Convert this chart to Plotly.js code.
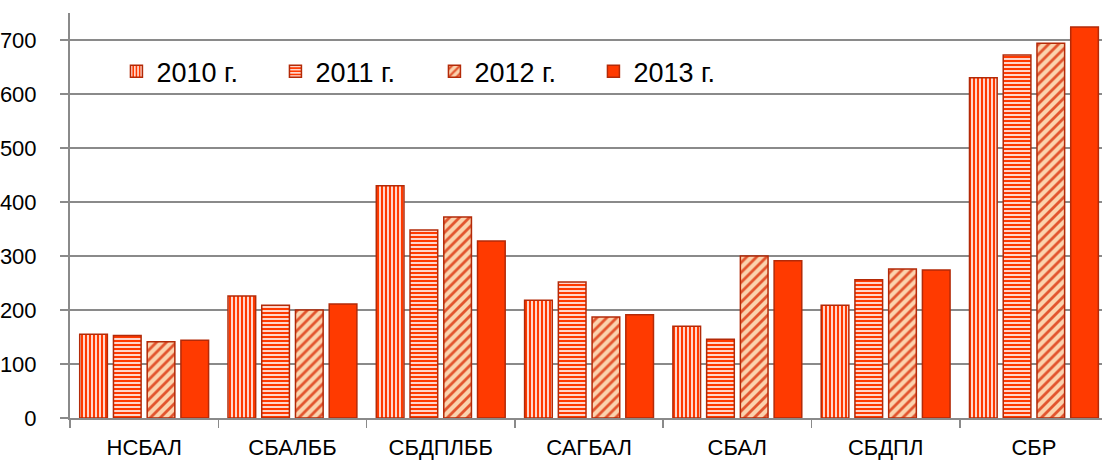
<!DOCTYPE html>
<html>
<head>
<meta charset="utf-8">
<script src="https://cdn.plot.ly/plotly-3.0.1.min.js"></script>
<style>html,body{margin:0;padding:0;background:#fff;}#chart{width:1102px;height:463px;}</style>
</head>
<body>
<div id="chart"></div>
<script>
const categories = ["НСБАЛ", "СБАЛББ", "СБДПЛББ", "САГБАЛ", "СБАЛ", "СБДПЛ", "СБР"];
const seriesNames = ["2010 г.", "2011 г.", "2012 г.", "2013 г."];
const v2010 = [155, 226, 430, 218, 170, 209, 630];
const v2011 = [153, 209, 348, 252, 146, 256, 672];
const v2012 = [141, 200, 372, 187, 300, 276, 694];
const v2013 = [144, 211, 328, 191, 291, 274, 724];
const yTicks = [0, 100, 200, 300, 400, 500, 600, 700];

const red = "#ff3a00";
const edge = "#b32a08";
const patterns = [
  {shape: "|", bgcolor: red, fgcolor: "#ffffff", size: 4, solidity: 0.4, fillmode: "replace"},
  {shape: "-", bgcolor: red, fgcolor: "#ffffff", size: 4, solidity: 0.4, fillmode: "replace"},
  {shape: "/", bgcolor: "#fbd3ae", fgcolor: "#e2542e", size: 7, solidity: 0.4, fillmode: "replace"},
  {shape: "", bgcolor: red, fgcolor: red, fillmode: "replace"}
];
const values = [v2010, v2011, v2012, v2013];

const traces = values.map((v, i) => ({
  type: "bar",
  name: seriesNames[i],
  x: categories,
  y: v,
  marker: {
    color: red,
    pattern: patterns[i],
    line: {color: edge, width: 1.5}
  },
  hoverinfo: "x+y+name"
}));

const font = "'Liberation Sans', Arial, sans-serif";
const layout = {
  width: 1102, height: 463,
  margin: {l: 70, r: 0, t: 13, b: 45, pad: 0},
  paper_bgcolor: "#ffffff",
  plot_bgcolor: "#ffffff",
  barmode: "group",
  bargap: 0.09,
  bargroupgap: 0.18,
  font: {family: font, size: 22, color: "#000000"},
  showlegend: true,
  legend: {
    orientation: "h",
    x: 0.045, xanchor: "left",
    y: 0.855, yanchor: "middle",
    font: {family: font, size: 27, color: "#000000"},
    bgcolor: "rgba(255,255,255,0)",
    entrywidth: 114, entrywidthmode: "pixels",
    traceorder: "normal"
  },
  xaxis: {
    type: "category",
    range: [-0.5, 6.459],
    showline: true, linecolor: "#8a8a8a", linewidth: 2,
    ticks: "outside", tickson: "boundaries", ticklen: 8, tickcolor: "#8a8a8a", tickwidth: 1.5,
    showgrid: false,
    tickfont: {family: font, size: 22, color: "#000000"},
    ticklabelstandoff: 9,
    fixedrange: true
  },
  yaxis: {
    range: [0, 750],
    tickvals: yTicks,
    ticktext: yTicks.map(String),
    showline: true, linecolor: "#8a8a8a", linewidth: 2,
    ticks: "outside", ticklen: 8, tickcolor: "#8a8a8a", tickwidth: 1.5,
    showgrid: true, gridcolor: "#8a8a8a", gridwidth: 2,
    zeroline: false,
    tickfont: {family: font, size: 22, color: "#000000"},
    ticklabelstandoff: 19,
    fixedrange: true
  }
};

Plotly.newPlot("chart", traces, layout, {displayModeBar: false, staticPlot: true});
</script>
</body>
</html>
